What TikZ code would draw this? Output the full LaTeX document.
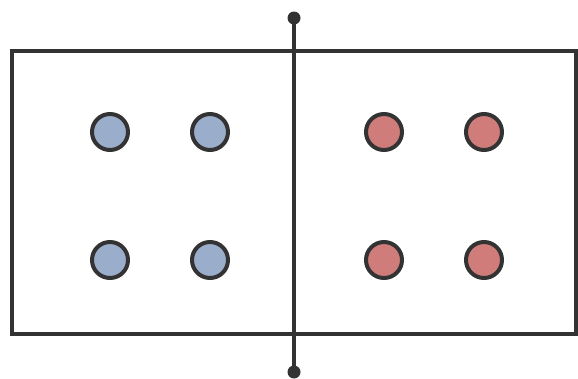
\documentclass[tikz,border=0pt]{standalone}
\usepackage{xcolor}
\usetikzlibrary{positioning}
\definecolor{dotblue}{HTML}{9AAECC}
\definecolor{dotred}{HTML}{D07C7A}
\definecolor{ink}{HTML}{333333}

\begin{document}
\begin{tikzpicture}[
    x=1pt, y=-1pt,
    frame/.style={draw=ink, line width=3.3pt},
    point/.style={circle, draw=ink, line width=4pt, minimum size=36pt, inner sep=0pt},
    divider/.style={draw=ink, line width=3.3pt},
    tip/.style={circle, fill=ink, minimum size=13pt, inner sep=0pt}
]
\useasboundingbox (0,0) rectangle (578,378);
\draw[frame] (12,51) rectangle (576,334);
% left class
\node[point, fill=dotblue] (b1) at (110,132) {};
\node[point, fill=dotblue] (b2) at (210,132) {};
\node[point, fill=dotblue] (b3) at (110,260) {};
\node[point, fill=dotblue] (b4) at (210,260) {};
% right class
\node[point, fill=dotred] (r1) at (384,132) {};
\node[point, fill=dotred] (r2) at (484,132) {};
\node[point, fill=dotred] (r3) at (384,260) {};
\node[point, fill=dotred] (r4) at (484,260) {};
% separating line
\node[tip] (top) at (294,18) {};
\node[tip] (bottom) at (294,372) {};
\draw[divider] (top.center) -- (bottom.center);
\end{tikzpicture}
\end{document}
